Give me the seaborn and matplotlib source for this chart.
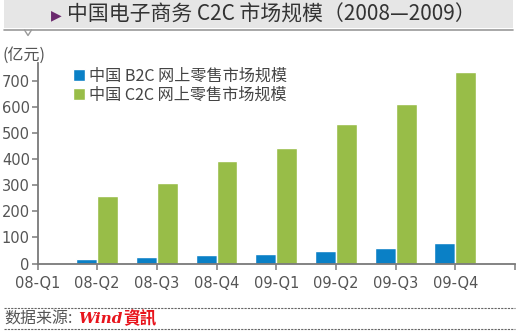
import numpy as np
import pandas as pd
import matplotlib
matplotlib.use("Agg")
import matplotlib.pyplot as plt
from matplotlib.lines import Line2D
from matplotlib.patches import Rectangle
import seaborn as sns

# ---- data ----
quarters = ["08-Q1", "08-Q2", "08-Q3", "08-Q4", "09-Q1", "09-Q2", "09-Q3", "09-Q4"]
series_names = ["中国 B2C 网上零售市场规模", "中国 C2C 网上零售市场规模"]
b2c_values = [0, 17, 25, 32, 35, 47, 61, 80]
c2c_values = [0, 258, 310, 395, 443, 535, 613, 735]
y_ticks = [0, 100, 200, 300, 400, 500, 600, 700]

title_text = "中国电子商务 C2C 市场规模（2008—2009）"
unit_text = "(亿元)"
source_text = "数据来源:"

sns.set_style("ticks")
plt.rcParams["font.family"] = ["Noto Sans CJK SC", "DejaVu Sans"]

df = pd.DataFrame({
    "季度": quarters * 2,
    "系列": [series_names[0]] * len(quarters) + [series_names[1]] * len(quarters),
    "值": b2c_values + c2c_values,
})

W, H = 520, 336
fig = plt.figure(figsize=(W / 100, H / 100), dpi=100)

def fx(x):
    return x / W

def fy(y):
    return 1 - y / H

ax = fig.add_axes([fx(37.5), fy(263.5), (515 - 37.5) / W, (263.5 - 63) / H])

blue = "#0a80c6"
green = "#98bd48"
sns.barplot(data=df, x="季度", y="值", hue="系列", order=quarters,
            hue_order=series_names, palette=[blue, green], width=0.7,
            saturation=1, errorbar=None, ax=ax, legend=True)

ax.set_xlim(0, 8)
ax.set_ylim(0, 770)
ax.set_xticks(range(9))
ax.set_xticklabels(quarters + [""])
ax.set_yticks(y_ticks)
ax.set_xlabel("")
ax.set_ylabel("")
axis_col = "#7a7a7a"
for s in ["top", "right"]:
    ax.spines[s].set_visible(False)
for s in ["left", "bottom"]:
    ax.spines[s].set_color(axis_col)
    ax.spines[s].set_linewidth(1.3)
ax.tick_params(axis="both", direction="out", length=4, width=1.1, color=axis_col,
               labelcolor="#555555", labelsize=10.5, pad=1.5)
ax.tick_params(axis="x", pad=5)
for lab in ax.get_xticklabels() + ax.get_yticklabels():
    lab.set_family(["DejaVu Sans"])

leg = ax.legend(loc="upper left", bbox_to_anchor=(0.06, 1.01), frameon=False,
                fontsize=11.6, handlelength=0.75, handleheight=0.75, handletextpad=0.25,
                labelspacing=0.15, borderaxespad=0)
for t in leg.get_texts():
    t.set_color("#444444")

# ---- header band ----
fig.patches.append(Rectangle((fx(4), fy(28)), (513 - 4) / W, 28 / H,
                             transform=fig.transFigure, facecolor="#e6e6e6",
                             edgecolor="none", zorder=0))
fig.lines.append(Line2D([fx(4), fx(513)], [fy(29.5), fy(29.5)],
                        transform=fig.transFigure, color="#9a9a9a", lw=1.2))
fig.lines.append(Line2D([fx(24.5), fx(28), fx(31.5)], [fy(30), fy(35.5), fy(30)],
                        transform=fig.transFigure, color="#9a9a9a", lw=1.0))
fig.text(fx(51), fy(15), "▶", color="#6b2a6e", fontsize=10, va="center", ha="left",
         family=["DejaVu Sans"])
fig.text(fx(67), fy(15), title_text, color="#333333", fontsize=15, va="center", ha="left")

fig.text(fx(2), fy(55), unit_text, color="#555555", fontsize=11.5, va="center", ha="left")

# ---- source footer ----
for yy in (308, 329):
    fig.lines.append(Line2D([fx(4), fx(515)], [fy(yy), fy(yy)],
                            transform=fig.transFigure, color="#666666", lw=0.8,
                            linestyle=(0, (2, 1))))
fig.text(fx(4), fy(319), source_text, color="#555555", fontsize=11.5, va="center", ha="left")
fig.text(fx(78), fy(319), "Wind", color="#e8141c", fontsize=11, fontweight="bold",
         fontstyle="italic", va="center", ha="left", family=["DejaVu Serif"])
fig.text(fx(123), fy(319), "資訊", color="#e8141c", fontsize=12, fontweight="bold",
         va="center", ha="left", family=["Noto Sans CJK TC", "DejaVu Sans"])

fig.savefig("out.png", dpi=100)
